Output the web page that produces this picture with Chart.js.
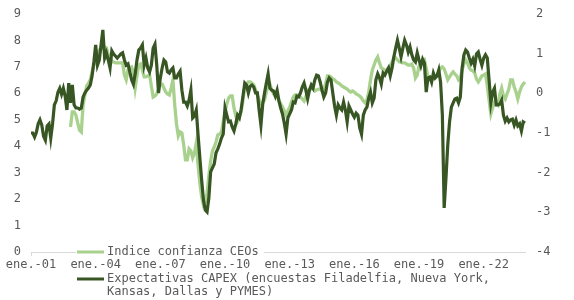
<!doctype html>
<html lang="es">
<head>
<meta charset="utf-8">
<title>Confianza CEOs y expectativas CAPEX</title>
<script src="https://cdn.jsdelivr.net/npm/chart.js@4.4.1/dist/chart.umd.min.js"></script>
<style>
  html, body { margin: 0; padding: 0; background: #fff; }
</style>
</head>
<body>
<canvas id="grafico" width="574" height="300"></canvas>

<script>
// eje x: meses desde ene. 2001, una etiqueta cada 3 años
var mesesCortos = ['ene.','feb.','mar.','abr.','may.','jun.','jul.','ago.','sep.','oct.','nov.','dic.'];
var anioInicio = 2001;
var numMeses = 276;
var cadaCuantos = 36;

// Indice confianza CEOs (eje izquierdo, 0-9)
var confianzaCEOs = [
  null,null,null,null,null,null,null,null,null,null,null,null,
  null,null,null,null,null,null,null,null,null,null,4.73,5.30,
  5.30,5.18,4.88,4.61,4.54,5.56,5.94,6.28,6.39,6.51,6.81,7.07,
  7.22,7.49,7.64,7.68,7.72,7.75,7.72,7.45,7.45,7.19,7.19,7.15,
  7.15,7.15,7.15,7.15,6.69,6.51,6.88,6.96,7.00,6.81,6.20,6.66,
  7.07,7.11,6.88,6.62,6.62,6.66,6.69,6.28,5.86,5.90,5.98,6.16,
  6.35,6.35,6.20,6.05,5.98,5.94,6.20,6.51,5.56,4.84,4.39,4.54,
  4.50,4.05,3.48,3.48,3.90,3.82,3.56,3.74,4.12,3.29,2.61,2.08,
  1.78,1.89,2.23,2.87,3.44,3.82,3.97,4.16,4.43,4.46,4.54,4.92,
  5.30,5.60,5.82,5.90,5.90,5.45,5.14,4.95,5.11,5.30,5.75,6.24,
  6.35,6.43,6.43,6.39,6.32,6.13,5.94,5.75,5.60,5.64,5.75,6.05,
  6.28,6.35,6.13,5.98,5.90,5.86,5.75,5.60,5.48,5.33,5.18,5.33,
  5.48,5.67,5.86,5.94,5.94,5.94,5.86,5.79,5.71,5.86,6.09,6.16,
  6.16,6.20,6.09,6.13,6.16,6.16,6.09,6.16,6.35,6.66,6.66,6.62,
  6.54,6.51,6.43,6.39,6.35,6.28,6.24,6.20,6.16,6.09,6.05,6.09,
  6.05,5.98,5.94,5.90,5.82,5.71,5.64,5.75,6.05,6.51,6.88,7.07,
  7.26,7.38,7.15,6.96,6.92,6.88,6.88,6.96,7.03,7.19,7.34,7.34,
  7.26,7.19,7.19,7.15,7.15,7.11,7.07,7.07,7.11,6.96,6.58,6.69,
  7.03,7.11,7.19,7.26,6.96,6.62,6.62,6.58,6.58,6.62,6.66,6.81,
  6.96,7.00,6.92,6.73,6.51,6.62,6.73,6.81,6.73,6.66,6.51,6.58,
  6.88,7.11,7.26,7.15,6.96,6.88,6.85,6.77,6.54,6.43,6.54,6.66,
  6.69,6.73,6.28,5.75,5.22,5.45,5.67,5.64,5.56,5.98,6.20,5.90,
  5.79,5.98,6.16,6.51,6.51,6.24,6.05,5.79,6.05,6.24,6.35,6.43
];

// Expectativas CAPEX (eje derecho, -4 a 2)
var expectativasCapex = [
  -1.00,-1.00,-1.10,-0.98,-0.77,-0.67,-0.80,-1.08,-1.18,-0.82,-0.77,-1.13,
  -0.77,-0.29,-0.19,0.03,0.13,-0.02,0.13,-0.07,-0.42,0.26,-0.24,0.21,
  -0.29,-0.37,-0.37,-0.40,-0.37,-0.09,0.01,0.08,0.13,0.21,0.44,0.79,
  1.22,0.71,0.84,1.22,1.60,0.89,1.02,0.84,0.64,1.07,0.99,0.94,
  0.89,0.94,0.99,1.02,0.84,0.71,0.74,0.54,0.34,0.23,0.49,0.84,
  1.09,1.14,1.22,0.71,0.89,0.64,0.54,0.71,1.14,1.24,0.71,0.01,
  0.39,0.64,0.84,0.79,0.54,0.51,0.59,0.64,0.39,0.39,0.49,0.56,
  0.08,-0.22,-0.22,-0.32,-0.17,0.08,-0.62,-0.57,-0.42,-1.05,-1.63,-2.19,
  -2.69,-2.94,-2.99,-2.64,-1.98,-1.88,-1.78,-1.50,-1.40,-1.28,-1.13,-1.03,
  -0.37,-0.55,-0.72,-0.70,-0.85,-0.95,-0.77,-0.55,-0.62,-0.40,-0.07,0.26,
  0.21,0.01,0.18,0.21,0.16,0.01,0.01,-0.42,-0.80,-0.27,0.01,0.26,
  0.49,0.13,0.08,0.06,-0.07,0.08,-0.19,-0.37,-0.52,-0.75,-1.03,-0.62,
  -0.52,-0.42,-0.22,-0.24,-0.07,-0.09,0.01,0.16,0.26,0.08,-0.14,0.08,
  0.21,0.13,0.34,0.46,0.44,0.28,0.08,-0.09,0.01,0.28,0.39,0.34,
  0.01,-0.32,-0.55,-0.29,-0.37,-0.42,-0.22,-0.42,-0.72,-0.32,-0.42,-0.52,
  -0.60,-0.50,-0.55,-0.87,-1.03,-0.55,-0.42,-0.35,-0.12,0.03,-0.24,-0.12,
  0.34,0.49,0.39,0.23,0.51,0.46,0.56,0.64,0.44,0.64,0.92,1.14,
  1.34,1.14,0.92,1.14,1.34,1.22,1.04,1.17,0.97,0.84,0.79,1.02,
  0.84,0.69,0.86,0.76,0.03,0.39,0.41,0.28,0.51,0.39,0.44,0.59,
  0.28,-0.55,-2.89,-2.14,-1.30,-0.72,-0.35,-0.24,-0.14,-0.12,-0.24,-0.09,
  0.64,0.97,1.09,1.04,0.89,0.76,0.86,0.69,0.99,1.04,0.86,0.71,
  0.89,0.97,0.89,0.34,-0.24,0.03,0.13,-0.29,-0.29,-0.27,-0.17,-0.55,
  -0.70,-0.62,-0.72,-0.67,-0.65,-0.80,-0.67,-0.82,-0.77,-0.95,-0.72,-0.75
];

var etiquetasLeyenda = [
  ['Indice confianza CEOs'],
  ['Expectativas CAPEX (encuestas Filadelfia, Nueva York,', 'Kansas, Dallas y PYMES)']
];

var verdeClaro = '#a9d18e';
var verdeOscuro = '#375623';
var gris = '#595959';
var fuente = '"DejaVu Sans Mono", monospace';

var categorias = [];
for (var i = 0; i < numMeses; i++) {
  var anio = anioInicio + Math.floor(i / 12);
  categorias.push(mesesCortos[i % 12] + '-' + String(anio).slice(2));
}

// leyenda a mano, como en el original (se monta sobre el eje)
var leyendaManual = {
  id: 'leyendaManual',
  afterDraw: function (chart) {
    var ctx = chart.ctx;
    ctx.save();
    ctx.font = '12px ' + fuente;
    ctx.textBaseline = 'middle';
    ctx.fillStyle = '#ffffff';
    ctx.fillRect(76, 246, 188, 12);

    ctx.lineWidth = 3;
    ctx.strokeStyle = verdeClaro;
    ctx.beginPath(); ctx.moveTo(77, 252); ctx.lineTo(104, 252); ctx.stroke();
    ctx.fillStyle = gris;
    ctx.fillText(etiquetasLeyenda[0][0], 107, 252);

    ctx.strokeStyle = verdeOscuro;
    ctx.beginPath(); ctx.moveTo(77, 279); ctx.lineTo(104, 279); ctx.stroke();
    ctx.fillText(etiquetasLeyenda[1][0], 107, 279);
    ctx.fillText(etiquetasLeyenda[1][1], 107, 292);
    ctx.restore();
  }
};

var ctx = document.getElementById('grafico').getContext('2d');
var grafico = new Chart(ctx, {
  type: 'line',
  data: {
    labels: categorias,
    datasets: [
      {
        label: etiquetasLeyenda[1].join(' '),
        data: expectativasCapex,
        yAxisID: 'y1',
        borderColor: verdeOscuro,
        backgroundColor: verdeOscuro,
        borderWidth: 3.2,
        pointRadius: 0,
        tension: 0,
        fill: false
      },
      {
        label: etiquetasLeyenda[0][0],
        data: confianzaCEOs,
        yAxisID: 'y',
        borderColor: verdeClaro,
        backgroundColor: verdeClaro,
        borderWidth: 3.3,
        pointRadius: 0,
        tension: 0,
        fill: false
      }
    ]
  },
  plugins: [leyendaManual],
  options: {
    responsive: false,
    animation: false,
    layout: { padding: { top: 14, left: 0, right: 0, bottom: 0 } },
    plugins: {
      legend: { display: false },
      tooltip: { enabled: false }
    },
    scales: {
      x: {
        offset: false,
        grid: {
          display: true,
          drawOnChartArea: false,
          drawTicks: true,
          tickLength: 4,
          color: function (c) { return c.index % cadaCuantos === 0 ? '#d9d9d9' : 'rgba(0,0,0,0)'; }
        },
        border: { display: true, color: '#d9d9d9', width: 1 },
        ticks: {
          autoSkip: false,
          maxRotation: 0,
          minRotation: 0,
          padding: 2,
          color: gris,
          font: { family: fuente, size: 12 },
          callback: function (v, idx) {
            return idx % cadaCuantos === 0 ? this.getLabelForValue(v) : null;
          }
        },
        afterFit: function (s) { s.height = 48; }
      },
      y: {
        position: 'left',
        min: 0,
        max: 9,
        // sin lineas; tickLength solo separa las etiquetas del area
        grid: { display: false, drawTicks: true, tickLength: 6 },
        border: { display: false },
        ticks: { stepSize: 1, padding: 4, color: gris, font: { family: fuente, size: 12 } },
        afterFit: function (s) { s.width = 31; }
      },
      y1: {
        position: 'right',
        min: -4,
        max: 2,
        grid: { display: false, drawTicks: true, tickLength: 7 },
        border: { display: false },
        ticks: { stepSize: 1, padding: 4, color: gris, font: { family: fuente, size: 12 } },
        afterFit: function (s) { s.width = 49; }
      }
    }
  }
});
</script>
</body>
</html>
